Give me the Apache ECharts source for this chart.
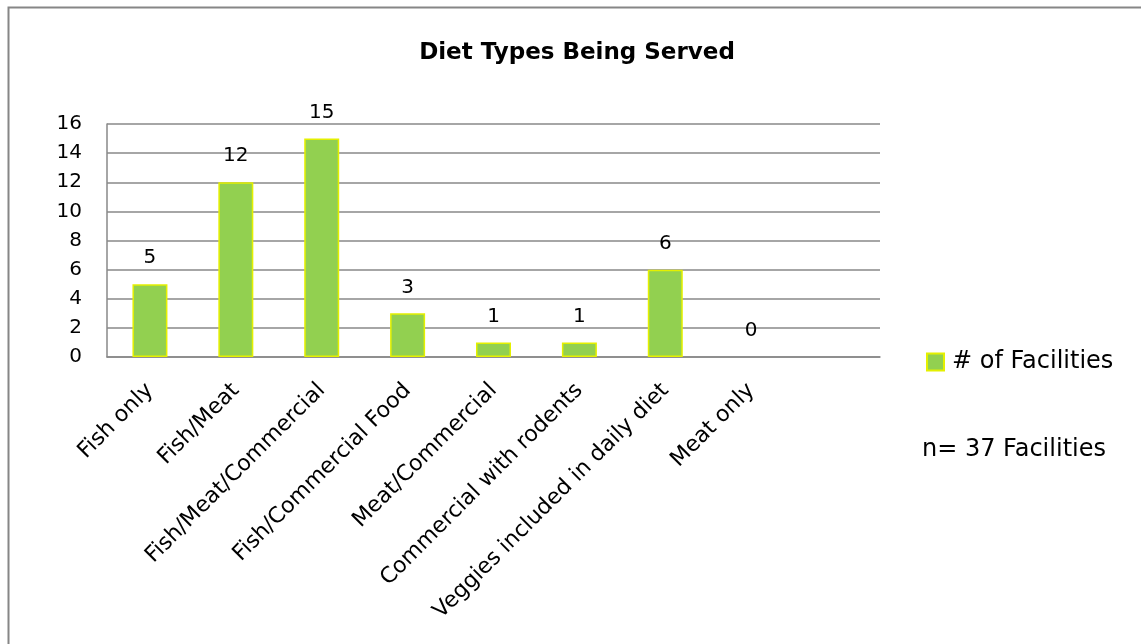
<!DOCTYPE html>
<html lang="en">
  <head>
    <meta charset="utf-8" />
    <title>Diet Types Being Served</title>
    <style>
      * {
        margin: 0;
        padding: 0;
      }
      #chart-container {
        position: relative;
        height: 644px;
        width: 1141px;
        overflow: hidden;
        background: #fff;
      }
    </style>
  </head>
  <body>
    <div id="chart-container"></div>
    <script src="https://fastly.jsdelivr.net/npm/echarts@6/dist/echarts.min.js"></script>
    <script>
      // diet categories (last slot is an empty category, as in the original sheet)
      var categories = [
        "Fish only",
        "Fish/Meat",
        "Fish/Meat/Commercial",
        "Fish/Commercial Food",
        "Meat/Commercial",
        "Commercial with rodents",
        "Veggies included in daily diet",
        "Meat only",
        "",
      ];
      var facilities = [5, 12, 15, 3, 1, 1, 6, 0, null];
      var yTicks = [0, 2, 4, 6, 8, 10, 12, 14, 16];
      var seriesName = "# of Facilities";
      var noteText = "n= 37 Facilities";

      var font = "DejaVu Sans";
      var gridColor = "#888888";

      var dom = document.getElementById("chart-container");
      var myChart = echarts.init(dom, null, { renderer: "canvas" });

      // a zero bar has no visible outline in the original
      var barData = facilities.map(function (v) {
        if (v === 0) return { value: v, itemStyle: { borderWidth: 0 } };
        return v;
      });

      var option = {
        backgroundColor: "#ffffff",
        animation: false,
        title: {
          text: "Diet Types Being Served",
          left: 572,
          top: 37,
          textAlign: "center",
          textStyle: {
            fontFamily: font,
            fontWeight: "bold",
            fontSize: 23,
            color: "#000",
          },
        },
        legend: {
          data: [seriesName],
          left: 926,
          top: 350,
          padding: 0,
          itemWidth: 17,
          itemHeight: 17,
          icon: "rect",
          textStyle: {
            fontFamily: font,
            fontSize: 24,
            color: "#000",
            padding: [0, 0, 0, 3],
          },
        },
        grid: {
          left: 107,
          top: 124,
          width: 773,
          height: 233,
          containLabel: false,
        },
        xAxis: {
          type: "category",
          data: categories,
          axisLine: { lineStyle: { color: gridColor, width: 1.5 } },
          axisTick: { show: false },
          axisLabel: {
            rotate: 45,
            interval: 0,
            margin: 30,
            fontFamily: font,
            fontSize: 22,
            color: "#000",
          },
        },
        yAxis: {
          type: "value",
          min: yTicks[0],
          max: yTicks[yTicks.length - 1],
          interval: 2,
          axisLine: { show: true, lineStyle: { color: gridColor, width: 1.5 } },
          axisTick: { show: false },
          splitLine: { lineStyle: { color: gridColor, width: 1.5 } },
          axisLabel: {
            margin: 25,
            fontFamily: font,
            fontSize: 20,
            color: "#000",
          },
        },
        series: [
          {
            name: seriesName,
            type: "bar",
            data: barData,
            barWidth: 35,
            itemStyle: {
              color: "#92D050",
              borderColor: "#E4F000",
              borderWidth: 1.5,
            },
            label: {
              show: true,
              position: "top",
              distance: 16,
              fontFamily: font,
              fontSize: 20,
              color: "#000",
            },
          },
        ],
        graphic: [
          {
            type: "rect",
            left: 6,
            top: 5,
            shape: { width: 1200, height: 700 },
            style: { fill: null, stroke: "#868686", lineWidth: 2 },
            silent: true,
          },
          {
            type: "text",
            left: 922,
            top: 438,
            style: {
              text: noteText,
              font: "24px " + font,
              fill: "#000",
            },
          },
        ],
      };

      myChart.setOption(option);
      window.addEventListener("resize", myChart.resize);
    </script>
  </body>
</html>
